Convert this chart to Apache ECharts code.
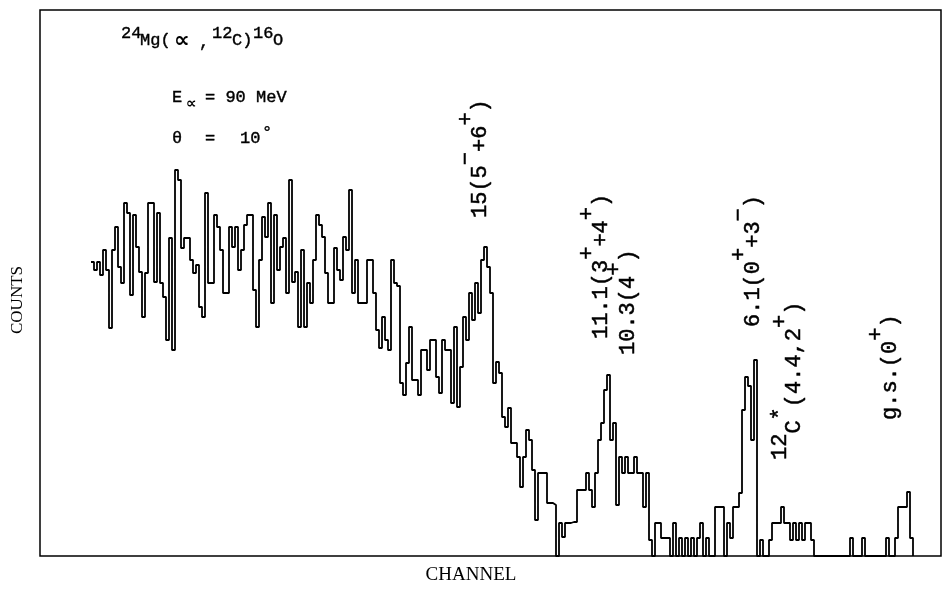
<!DOCTYPE html>
<html>
<head>
<meta charset="utf-8">
<script src="https://cdn.jsdelivr.net/npm/echarts@6/dist/echarts.min.js"></script>
<style>
  html, body { margin: 0; padding: 0; background: #fff; }
  #chart { width: 945px; height: 592px; }
</style>
</head>
<body>
<div id="chart"></div>
<script>
let chart = echarts.init(document.getElementById('chart'));

// channel of the first bin, one bin per channel
const firstChannel = 17;

// counts per channel (arbitrary units)
const counts = [
    294, 286, 294, 281, 306, 286, 228, 306, 329, 289,
    273, 353, 343, 261, 341, 309, 284, 239, 283, 353,
    353, 274, 343, 273, 259, 216, 318, 206, 386, 376,
    308, 318, 318, 296, 283, 291, 249, 239, 363, 273,
    273, 341, 329, 306, 263, 263, 329, 309, 329, 286,
    306, 331, 341, 341, 266, 229, 296, 339, 319, 353,
    253, 341, 286, 309, 318, 263, 376, 274, 284, 229,
    306, 229, 273, 253, 296, 341, 331, 319, 283, 253,
    253, 308, 286, 276, 319, 306, 366, 263, 296, 253,
    253, 253, 296, 296, 263, 226, 208, 239, 216, 206,
    296, 273,
    270, 173, 161, 193, 229, 176, 176, 161, 206, 206,
    186, 216, 216, 179, 163, 216, 206, 206, 153, 229,
    149, 189, 239, 216, 263, 236, 273, 243, 296, 309,
    289, 263, 173, 194, 183, 139, 129, 148, 113, 113,
    99, 69, 99, 126, 116, 86, 36, 83, 83, 83,
    53, 53, 51,
    0, 33, 19, 33, 33, 34, 34, 66, 66, 66,
    83, 66, 49, 83, 116, 133, 166, 181, 116, 133,
    51, 99, 83, 99, 83, 83, 99, 83, 83, 49,
    83, 16, 0, 33, 33, 18, 18, 18, 0, 33,
    0, 18, 0, 18, 0, 18, 0, 18, 33, 0,
    18, 0, 0, 49, 49, 49, 0, 33, 18, 49,
    49, 63, 146, 179, 170, 116, 196, 0, 16, 0,
    0, 16, 33, 33, 33, 49, 33, 33, 16, 33,
    16, 33, 16, 33, 33, 16, 0, 0, 0, 0,
    0, 0, 0, 0, 0, 0, 0, 0, 18, 0,
    0, 0, 18, 0, 0, 0, 0, 0, 0, 0,
    18, 0, 0, 18, 49, 49, 49, 64, 18, 0
];

// peak labels: [text, raised]
const peakLabels = [
    [['15(5', 0], ['−', 1], ['+6', 0], ['+', 1], [')', 0]],
    [['11.1(3', 0], ['+', 1], ['+4', 0], ['+', 1], [')', 0]],
    [['10.3(4', 0], ['+', 1], [')', 0]],
    [['6.1(0', 0], ['+', 1], ['+3', 0], ['−', 1], [')', 0]],
    [['12', 1], ['C', 0], ['*', 1], ['(4.4,2', 0], ['+', 1], [')', 0]],
    [['g.s.(0', 0], ['+', 1], [')', 0]]
];
// where each label sits: column x, bottom y
const peakLabelPos = [[480, 218], [601, 339], [628, 355], [753, 327], [794, 460], [890, 420]];

const reactionText = [['24', 121, 33], ['Mg(', 140, 40], [',', 199, 42], ['12', 212, 33], ['C)', 232, 40], ['16', 253, 33], ['O', 273, 40]];
const energyText = [['E', 172, 97], ['= 90 MeV', 205, 97]];
const angleText = [['θ', 172, 138], ['=', 205, 138], ['10', 240, 138], ['°', 262, 132]];
// the typewriter alpha, drawn larger
const alphaText = [['∝', 174, 41, 22], ['∝', 186, 104, 15]];

const xLabel = 'CHANNEL';
const yLabel = 'COUNTS';

let seriesData = counts.map((v, i) => [firstChannel + i, v]);

const monoFont = '22px "Liberation Mono", monospace';
const pitch = 22 * 0.6;
const rowShift = 14;

function peakLabel(segs, pos) {
    let off = 0;
    let kids = segs.map(s => {
        let el = {
            type: 'text', x: off, y: s[1] ? -rowShift : 0,
            style: {text: s[0], font: monoFont, fill: '#000', stroke: '#000', lineWidth: 0.5,
                align: 'left', verticalAlign: 'middle'}
        };
        off += s[0].length * pitch;
        return el;
    });
    return {type: 'group', x: pos[0], y: pos[1], rotation: Math.PI / 2, children: kids};
}

function flatText(list, size) {
    return list.map(t => ({
        type: 'text', x: t[1], y: t[2],
        style: {text: t[0], font: size + 'px "Liberation Mono", monospace', fill: '#000', stroke: '#000', lineWidth: 0.4,
            align: 'left', verticalAlign: 'middle'}
    }));
}

let graphics = [];
peakLabels.forEach((segs, i) => graphics.push(peakLabel(segs, peakLabelPos[i])));
graphics = graphics.concat(flatText(reactionText, 17), flatText(energyText, 17), flatText(angleText, 17));
alphaText.forEach(a => graphics.push({
    type: 'text', x: a[1], y: a[2],
    style: {text: a[0], font: 'bold ' + a[3] + 'px "DejaVu Sans", sans-serif', fill: '#000',
        align: 'left', verticalAlign: 'middle'}
}));
graphics.push({
    type: 'text', x: 471, y: 575,
    style: {text: xLabel, font: '19px "Liberation Serif", serif', fill: '#000', align: 'center', verticalAlign: 'middle'}
});
graphics.push({
    type: 'text', x: 18, y: 300, rotation: Math.PI / 2,
    style: {text: yLabel, font: '17px "Liberation Serif", serif', fill: '#000', align: 'center', verticalAlign: 'middle'}
});

let option = {
    animation: false,
    backgroundColor: '#fff',
    grid: {
        show: true, left: 40, top: 10, width: 901, height: 546,
        borderColor: '#000', borderWidth: 1.5, backgroundColor: 'transparent'
    },
    xAxis: {
        type: 'value', min: 0, max: 901 / 3,
        axisLine: {show: false}, axisTick: {show: false}, axisLabel: {show: false}, splitLine: {show: false}
    },
    yAxis: {
        type: 'value', min: 0, max: 546,
        axisLine: {show: false}, axisTick: {show: false}, axisLabel: {show: false}, splitLine: {show: false}
    },
    series: [{
        type: 'line',
        step: 'end',
        symbol: 'none',
        data: seriesData,
        lineStyle: {color: '#000', width: 1.8}
    }],
    graphic: graphics
};

chart.setOption(option);
</script>
</body>
</html>
